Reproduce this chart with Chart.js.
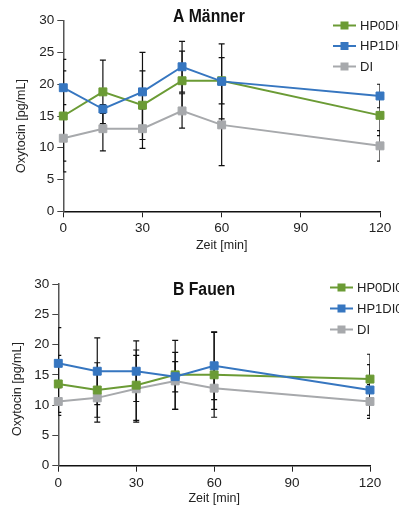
<!DOCTYPE html>
<html><head><meta charset="utf-8">
<script src="https://cdn.jsdelivr.net/npm/chart.js@4"></script>
<style>
html,body{margin:0;padding:0;background:#fff;width:399px;height:507px;overflow:hidden}
.box{position:absolute;left:0;width:399px}
#a{top:0;height:255px}
#b{top:255px;height:252px}
</style></head><body>
<div class="box" id="a"><canvas id="ca"></canvas></div>
<div class="box" id="b"><canvas id="cb"></canvas></div>
<script>
// ---- data ----
const times = [0, 15, 30, 45, 60, 120];
const xTickValues = [0, 30, 60, 90, 120];
const seriesNames = ['HP0DI0', 'HP1DI0', 'DI'];
const titleA = 'A Männer';
const titleB = 'B Fauen';
const xTitle = 'Zeit [min]';
const yTitle = 'Oxytocin [pg/mL]';

const menHP0DI0 = [15.0, 18.8, 16.7, 20.55, 20.55, 15.1];
const menHP1DI0 = [19.45, 16.1, 18.8, 22.75, 20.45, 18.15];
const menDI     = [11.5, 13.0, 13.0, 15.8, 13.6, 10.3];
const menErrHP0DI0 = [7.1, 5.0, 5.4, 4.65, 3.65, 3.2];
const menErrHP1DI0 = [4.45, 0.7, 6.2, 4.0, 5.9, 1.85];
const menErrDI     = [5.3, 3.5, 3.1, 2.7, 6.4, 2.4];

const womenHP0DI0 = [13.5, 12.5, 13.3, 15.0, 15.0, 14.3];
const womenHP1DI0 = [16.9, 15.6, 15.6, 14.7, 16.5, 12.5];
const womenDI     = [10.6, 11.2, 12.7, 14.0, 12.8, 10.6];
const womenErrHP0DI0 = [4.7, 4.5, 5.8, 5.7, 7.0, 4.1];
const womenErrHP1DI0 = [5.9, 5.5, 5.0, 2.5, 5.6, 4.2];
const womenErrDI     = [2.3, 4.0, 5.5, 4.7, 3.5, 2.8];

// ---- styles ----
const FONT = "'Liberation Sans',Arial,sans-serif";
const COLORS = ['#6b9b35', '#3676c0', '#a7a9ac'];
const ORDERS = [1, 0, 2];

const errorBars = {
  id: 'errorBars',
  beforeDatasetsDraw(chart) {
    const {ctx, chartArea: a, scales: {x, y}} = chart;
    ctx.save();
    ctx.beginPath();
    ctx.rect(a.left, a.top - 10, a.right - a.left, a.bottom - a.top + 10);
    ctx.clip();
    ctx.strokeStyle = '#111';
    ctx.lineWidth = 1.2;
    chart.data.datasets.forEach(ds => {
      (ds.err || []).forEach((e, i) => {
        const p = ds.data[i];
        const px = x.getPixelForValue(p.x);
        const hi = y.getPixelForValue(p.y + e);
        const lo = y.getPixelForValue(p.y - e);
        ctx.beginPath();
        ctx.moveTo(px, hi); ctx.lineTo(px, lo);
        ctx.moveTo(px - 3, hi); ctx.lineTo(px + 3, hi);
        ctx.moveTo(px - 3, lo); ctx.lineTo(px + 3, lo);
        ctx.stroke();
      });
    });
    ctx.restore();
  }
};

const overlay = {
  id: 'overlay',
  afterDraw(chart, args, o) {
    const ctx = chart.ctx;
    ctx.save();
    // chart title (condensed bold)
    ctx.fillStyle = '#111';
    ctx.font = "bold 18px " + FONT;
    ctx.textAlign = 'left';
    ctx.textBaseline = 'middle';
    ctx.save();
    ctx.translate(o.titleX, o.titleY);
    ctx.scale(0.875, 1);
    ctx.fillText(o.title, 0, 0);
    ctx.restore();
    // y axis title
    ctx.save();
    ctx.font = "12.5px " + FONT;
    ctx.fillStyle = '#222';
    ctx.textAlign = 'center';
    ctx.translate(o.yTitleX, o.yTitleY);
    ctx.rotate(-Math.PI / 2);
    ctx.fillText(yTitle, 0, 0);
    ctx.restore();
    // legend
    ctx.font = "13px " + FONT;
    chart.data.datasets.forEach((ds, i) => {
      const yy = o.legY + i * o.legGap;
      ctx.strokeStyle = ds.borderColor;
      ctx.lineWidth = 2;
      ctx.beginPath(); ctx.moveTo(o.legX, yy); ctx.lineTo(o.legX + 23, yy); ctx.stroke();
      ctx.fillStyle = ds.borderColor;
      ctx.fillRect(o.legX + 11.5 - 4, yy - 4, 8, 8);
      ctx.fillStyle = '#222';
      ctx.fillText(ds.label, o.legX + 27, yy + 0.5);
    });
    ctx.restore();
  }
};

function makeChart(id, series, errs, title, area, canvasH, ov) {
  const datasets = series.map((vals, i) => ({
    label: seriesNames[i],
    data: times.map((t, j) => ({x: t, y: vals[j]})),
    err: errs[i],
    borderColor: COLORS[i],
    backgroundColor: COLORS[i],
    borderWidth: 2,
    pointStyle: 'rect',
    pointRadius: 5.6,
    pointBorderWidth: 1,
    tension: 0,
    order: ORDERS[i],
    clip: false
  }));
  return new Chart(document.getElementById(id), {
    type: 'line',
    data: {datasets},
    plugins: [errorBars, overlay],
    options: {
      animation: false,
      responsive: true,
      maintainAspectRatio: false,
      devicePixelRatio: 1,
      layout: {padding: {top: area.top, right: 399 - area.right, left: 0, bottom: 0}},
      plugins: {
        legend: {display: false},
        tooltip: {enabled: false},
        overlay: Object.assign({title}, ov)
      },
      scales: {
        x: {
          type: 'linear', min: 0, max: 120,
          afterBuildTicks: s => { s.ticks = xTickValues.map(v => ({value: v})); },
          afterFit: s => { s.height = canvasH - area.bottom; },
          ticks: {font: {family: FONT, size: 13.5}, color: '#222', padding: 3, maxRotation: 0},
          grid: {drawOnChartArea: false, drawTicks: true, tickLength: 6, color: '#222', lineWidth: 1},
          border: {display: true, color: '#111', width: 1.5},
          title: {display: true, text: xTitle, font: {family: FONT, size: 12.5}, color: '#222', padding: {top: 0, bottom: area.xtb}}
        },
        y: {
          min: 0, max: 30,
          ticks: {stepSize: 5, font: {family: FONT, size: 13.5}, color: '#222', padding: 3},
          afterFit: s => { s.width = area.left; },
          grid: {drawOnChartArea: false, drawTicks: true, tickLength: 6, color: '#444', lineWidth: 1},
          border: {display: true, color: '#555', width: 1.5}
        }
      }
    }
  });
}

makeChart('ca', [menHP0DI0, menHP1DI0, menDI], [menErrHP0DI0, menErrHP1DI0, menErrDI], titleA,
  {left: 63.3, right: 380, top: 20.7, bottom: 211.3, xtb: 2}, 255,
  {titleX: 173, titleY: 17, legX: 333, legY: 25.5, legGap: 20.5, yTitleX: 22, yTitleY: 126});
makeChart('cb', [womenHP0DI0, womenHP1DI0, womenDI], [womenErrHP0DI0, womenErrHP1DI0, womenErrDI], titleB,
  {left: 58.3, right: 370, top: 29, bottom: 210.7, xtb: 1}, 252,
  {titleX: 173, titleY: 35, legX: 330, legY: 32.5, legGap: 21, yTitleX: 17.5, yTitleY: 134});
</script>
</body></html>
